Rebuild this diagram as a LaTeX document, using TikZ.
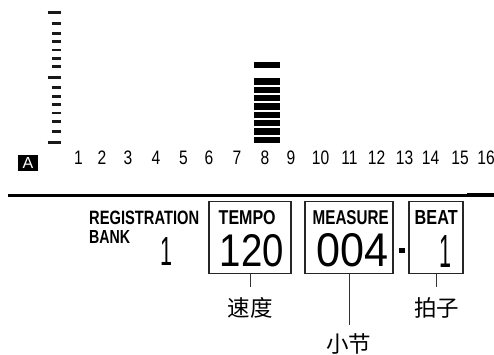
\documentclass[tikz,border=0pt]{standalone}
\usepackage{fontspec}
\setmainfont{Liberation Sans}
\newfontfamily\cjk{Noto Sans CJK SC}
\usepackage{graphicx}
\newcommand\rownum[1]{\scalebox{0.8}[1]{\fontsize{19.5}{20}\selectfont #1}}
\tikzset{
  lcdbox/.style={draw=black!85, line width=1.2pt, inner sep=0pt},
  leader/.style={draw=black!80, line width=1pt},
  cjklab/.style={font=\cjk\fontsize{22.5}{24}\selectfont, inner sep=0pt, anchor=base},
  captxt/.style={inner sep=0pt, anchor=north west, font=\bfseries},
  lcdtxt/.style={inner sep=0pt},
  rowtxt/.style={inner sep=0pt, anchor=base},
  tickmark/.style={line width=2.5pt, draw=black!90},
}
\begin{document}
\begin{tikzpicture}[x=1pt,y=-1pt]
\useasboundingbox (0,0) rectangle (494,354);
% vertical scale
\foreach \yy in {12.7,77.3,142.7} \draw[tickmark] (47.5,\yy) -- (60.5,\yy);
\foreach \yy in {23.3,33.3,41.7,50,58.3,66.7,87.7,96.3,104.7,113,121.3,131.7}
  \draw[tickmark] (52,\yy) -- (60.5,\yy);
% level bar at 8
\fill (254,61.7) rectangle (280,67.7);
\foreach \i in {0,...,7} \fill (254,{78.3+\i*8.33}) rectangle (280,{84.6+\i*8.33});
% bank A
\node[fill=black, minimum width=20pt, minimum height=16pt, inner sep=0pt] (abox) at (28,163) {};
\node[text=white, inner sep=0pt] (atxt) at (abox.center) {\resizebox{!}{11pt}{A}};
% number row
\foreach \n/\xx in {1/78.5,2/102,3/128,4/156,5/183.5,6/209,7/237,8/265,9/291,10/320.5,11/349.5,12/376.5,13/404.5,14/430.5,15/460,16/486}
  \node[rowtxt] (n\n) at (\xx,164) {\rownum{\n}};
% separator line
\draw[line width=3pt] (8,195) -- (494,195);
\draw[line width=4pt] (467,195) -- (494,195);
% registration bank
\node[captxt] (regtxt) at (89,211) {\resizebox{110pt}{13.5pt}{REGISTRATION}};
\node[captxt] (banktxt) at (89,230) {\resizebox{41pt}{13pt}{BANK}};
\node[lcdtxt] (bankval) at (166.5,251) {\resizebox{12pt}{28pt}{1}};
% boxes
\node[lcdbox, minimum width=82pt, minimum height=72pt] (tempo) at (250,237.5) {};
\node[lcdbox, minimum width=88pt, minimum height=72pt] (measure) at (349,237.5) {};
\node[lcdbox, minimum width=54pt, minimum height=72pt] (beat) at (436,237.5) {};
\node[captxt] (tempotxt) at (218.5,210.5) {\resizebox{57pt}{14pt}{TEMPO}};
\node[captxt] (measuretxt) at (312.5,210.5) {\resizebox{76pt}{14pt}{MEASURE}};
\node[captxt] (beattxt) at (414.5,210.5) {\resizebox{43pt}{14pt}{BEAT}};
\node[lcdtxt] (tempoval) at (252,251) {\resizebox{64pt}{32pt}{120}};
\node[lcdtxt] (measureval) at (352.5,250.5) {\resizebox{72pt}{33pt}{004}};
\node[lcdtxt] (beatval) at (445.5,251) {\resizebox{12pt}{32pt}{1}};
\fill (399,248) rectangle (405,253);
% leaders and labels
\coordinate (tempoend) at (250,287);
\coordinate (measureend) at (349,325);
\coordinate (beatend) at (436,287);
\draw[leader] (tempo.south) -- (tempoend);
\draw[leader] (measure.south) -- (measureend);
\draw[leader] (beat.south) -- (beatend);
\node[cjklab] (tempolab) at (250,316.5) {速度};
\node[cjklab] (measurelab) at (348.5,352) {小节};
\node[cjklab] (beatlab) at (436.5,316.5) {拍子};
\end{tikzpicture}
\end{document}
